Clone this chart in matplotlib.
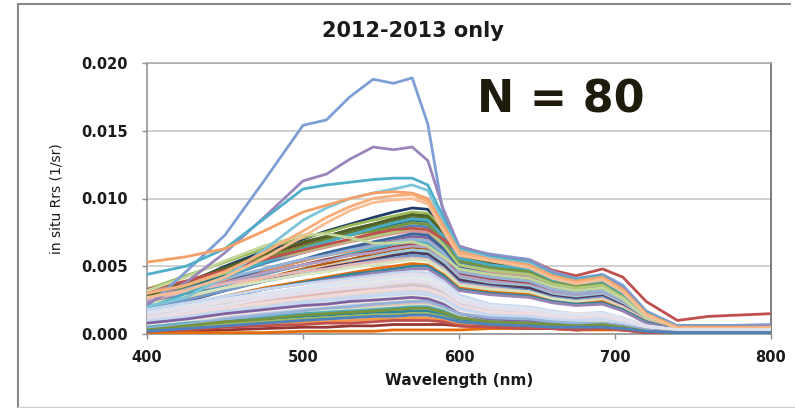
import matplotlib
matplotlib.use("Agg")
import matplotlib.pyplot as plt
from matplotlib.lines import Line2D
from matplotlib.ticker import FixedLocator, StrMethodFormatter

# Sampling wavelengths (nm)
wavelength_nm = [400, 425, 450, 475, 500, 515, 530, 545, 558, 570, 580, 590,
                 600, 620, 645, 660, 675, 692, 705, 720, 740, 760, 800]

# Remote-sensing reflectance, in units of 1e-4 sr^-1
RRS_UNIT = 1e-4

bright_spectra = [
    [20, 46, 73, 113, 154, 158, 175, 188, 185, 189, 155, 88, 64, 59, 55, 46, 41, 44, 36, 17, 6, 6, 7],
    [22, 38, 60, 86, 113, 118, 129, 138, 136, 138, 128, 92, 65, 58, 54, 45, 40, 43, 34, 16, 5, 5, 6],
    [44, 50, 63, 85, 107, 110, 112, 114, 115, 115, 110, 86, 63, 57, 53, 44, 40, 43, 33, 16, 5, 5, 5],
    [20, 27, 42, 62, 84, 93, 100, 104, 107, 110, 106, 82, 62, 56, 52, 43, 39, 42, 32, 15, 5, 4, 5],
    [53, 57, 63, 76, 90, 95, 100, 104, 105, 104, 100, 80, 61, 55, 51, 43, 39, 42, 33, 15, 5, 5, 5],
    [30, 36, 46, 60, 76, 86, 94, 100, 102, 103, 98, 78, 60, 55, 50, 42, 38, 41, 32, 14, 4, 4, 5],
    [27, 32, 42, 56, 72, 82, 91, 97, 99, 100, 96, 76, 58, 54, 49, 41, 37, 40, 31, 14, 4, 4, 4],
]

mid_spectra = [
    [26, 37, 50, 61, 70, 76, 81, 86, 90, 93, 92, 79, 61, 56, 52, 44, 40, 43, 33, 16, 6, 6, 6],
    [25, 36, 47, 58, 67, 72, 77, 81, 85, 88, 87, 75, 58, 53, 49, 41, 38, 40, 31, 15, 5, 5, 5],
    [33, 43, 53, 63, 71, 75, 80, 84, 87, 90, 89, 77, 59, 54, 50, 42, 39, 41, 32, 15, 5, 5, 5],
    [24, 35, 46, 56, 65, 70, 75, 79, 83, 86, 85, 73, 57, 52, 48, 40, 37, 40, 30, 15, 5, 5, 5],
    [22, 33, 44, 54, 63, 68, 73, 77, 81, 84, 83, 71, 55, 50, 47, 39, 36, 39, 29, 14, 5, 5, 5],
    [21, 31, 42, 52, 60, 65, 69, 74, 77, 80, 79, 68, 53, 48, 45, 38, 34, 37, 28, 14, 5, 5, 5],
    [30, 39, 48, 57, 64, 69, 73, 76, 79, 82, 81, 70, 54, 49, 46, 39, 35, 38, 29, 14, 5, 5, 5],
    [30, 38, 46, 54, 60, 64, 68, 71, 74, 76, 75, 65, 50, 46, 43, 36, 33, 35, 27, 13, 5, 5, 5],
    [20, 29, 38, 47, 54, 59, 63, 66, 69, 72, 71, 61, 48, 43, 40, 34, 31, 33, 25, 12, 4, 4, 4],
    [22, 30, 39, 47, 54, 58, 61, 65, 68, 70, 69, 60, 46, 42, 39, 33, 30, 32, 25, 12, 4, 4, 4],
    [19, 28, 38, 48, 55, 60, 64, 68, 71, 74, 73, 63, 49, 44, 41, 35, 32, 34, 26, 13, 4, 4, 4],
    [27, 36, 45, 54, 61, 65, 69, 72, 75, 78, 77, 66, 51, 47, 44, 37, 34, 36, 27, 13, 5, 5, 5],
    [18, 27, 36, 44, 51, 55, 59, 63, 66, 68, 67, 58, 45, 41, 38, 32, 29, 31, 24, 12, 4, 4, 4],
    [23, 30, 38, 45, 51, 55, 58, 61, 64, 66, 65, 56, 44, 40, 37, 31, 28, 30, 23, 11, 4, 4, 4],
    [16, 24, 33, 41, 48, 52, 55, 59, 62, 64, 63, 54, 42, 38, 36, 30, 28, 29, 22, 11, 4, 4, 4],
    [25, 33, 41, 48, 55, 58, 62, 65, 68, 70, 69, 60, 46, 42, 39, 33, 30, 32, 25, 12, 4, 4, 4],
    [24, 31, 38, 45, 51, 54, 58, 60, 63, 65, 64, 55, 43, 39, 36, 31, 28, 30, 23, 11, 4, 4, 4],
    [17, 25, 33, 40, 47, 50, 54, 57, 60, 62, 61, 53, 41, 37, 35, 29, 27, 29, 22, 11, 4, 4, 4],
    [20, 27, 34, 41, 46, 50, 53, 56, 58, 60, 59, 51, 40, 36, 34, 28, 26, 28, 21, 10, 4, 4, 4],
    [17, 24, 32, 39, 45, 49, 52, 55, 58, 60, 59, 51, 40, 36, 34, 28, 26, 28, 21, 10, 4, 4, 4],
    [18, 25, 32, 39, 44, 48, 51, 54, 56, 58, 57, 49, 38, 35, 32, 27, 25, 27, 20, 10, 3, 3, 3],
    [26, 31, 37, 42, 46, 48, 51, 53, 55, 56, 55, 48, 37, 34, 31, 26, 24, 26, 20, 10, 3, 3, 3],
    [22, 28, 34, 39, 44, 46, 49, 51, 53, 55, 54, 47, 36, 33, 31, 26, 24, 25, 19, 9, 3, 3, 3],
    [15, 21, 28, 34, 39, 42, 45, 48, 50, 52, 51, 44, 34, 31, 29, 24, 22, 24, 18, 9, 3, 3, 3],
    [14, 20, 27, 33, 38, 41, 44, 46, 48, 50, 50, 43, 33, 30, 28, 24, 22, 23, 18, 9, 3, 3, 3],
    [16, 21, 27, 33, 37, 40, 42, 45, 46, 48, 48, 41, 32, 29, 27, 23, 21, 22, 17, 8, 3, 3, 3],
    [28, 38, 49, 59, 68, 72, 77, 81, 85, 88, 87, 75, 58, 53, 49, 41, 38, 40, 31, 15, 5, 5, 5],
    [19, 30, 42, 53, 63, 68, 73, 78, 82, 85, 84, 72, 56, 51, 48, 40, 37, 39, 30, 14, 5, 5, 5],
    [33, 39, 47, 55, 62, 66, 70, 74, 77, 78, 77, 70, 60, 57, 55, 47, 43, 48, 42, 24, 10, 13, 15],
    [32, 42, 54, 65, 73, 74, 71, 67, 67, 68, 65, 57, 48, 44, 41, 35, 32, 34, 26, 12, 5, 5, 5],
]

pale_spectra = [
    [18, 23, 28, 33, 37, 39, 41, 43, 45, 46, 45, 39, 29, 22, 20, 17, 15, 16, 12, 6, 3, 3, 3],
    [15, 20, 25, 30, 34, 37, 39, 41, 43, 44, 43, 37, 27, 21, 19, 16, 15, 15, 12, 6, 3, 3, 3],
    [13, 18, 23, 28, 32, 35, 37, 39, 41, 42, 41, 36, 26, 20, 18, 16, 14, 15, 11, 5, 3, 3, 3],
    [12, 17, 22, 27, 31, 33, 36, 38, 40, 41, 40, 35, 25, 20, 18, 15, 14, 14, 11, 5, 2, 2, 2],
    [14, 18, 23, 28, 31, 33, 35, 37, 39, 40, 39, 34, 25, 19, 18, 15, 13, 14, 11, 5, 2, 2, 2],
    [10, 15, 20, 25, 29, 31, 34, 36, 38, 39, 38, 33, 24, 19, 17, 14, 13, 14, 11, 5, 2, 2, 2],
    [11, 16, 21, 25, 29, 31, 33, 35, 37, 38, 37, 32, 24, 18, 17, 14, 13, 13, 10, 5, 2, 2, 2],
    [9, 14, 19, 24, 28, 30, 32, 34, 36, 37, 36, 31, 23, 18, 16, 14, 12, 13, 10, 5, 2, 2, 2],
    [12, 16, 20, 25, 28, 30, 32, 33, 35, 36, 35, 31, 22, 17, 16, 13, 12, 13, 10, 5, 2, 2, 2],
    [9, 13, 18, 23, 26, 28, 30, 32, 34, 35, 34, 30, 22, 17, 15, 13, 12, 12, 9, 5, 2, 2, 2],
    [7, 12, 17, 22, 25, 28, 30, 32, 34, 35, 34, 30, 22, 17, 15, 13, 12, 12, 9, 5, 2, 2, 2],
    [10, 14, 18, 22, 26, 28, 30, 31, 33, 34, 33, 29, 21, 16, 15, 13, 11, 12, 9, 4, 2, 2, 2],
    [8, 12, 17, 21, 25, 27, 29, 30, 32, 33, 32, 28, 20, 16, 15, 12, 11, 12, 9, 4, 2, 2, 2],
    [7, 11, 16, 20, 24, 26, 28, 29, 31, 32, 31, 27, 20, 15, 14, 12, 11, 11, 9, 4, 2, 2, 2],
    [9, 13, 17, 20, 24, 25, 27, 29, 30, 31, 30, 26, 19, 15, 14, 11, 10, 11, 8, 4, 2, 2, 2],
    [6, 10, 14, 18, 22, 24, 26, 27, 29, 30, 29, 26, 19, 14, 13, 11, 10, 11, 8, 4, 2, 2, 2],
    [8, 12, 15, 19, 22, 24, 25, 27, 28, 29, 28, 25, 18, 14, 13, 11, 10, 10, 8, 4, 2, 2, 2],
    [6, 10, 14, 17, 21, 22, 24, 26, 27, 28, 27, 24, 17, 13, 12, 10, 9, 10, 8, 4, 2, 2, 2],
    [7, 10, 14, 17, 20, 22, 23, 25, 26, 27, 26, 23, 17, 13, 12, 10, 9, 9, 7, 4, 2, 2, 2],
    [5, 9, 12, 16, 19, 21, 22, 24, 25, 26, 25, 22, 16, 12, 11, 10, 9, 9, 7, 3, 2, 2, 2],
    [6, 9, 13, 16, 19, 20, 22, 23, 24, 25, 25, 21, 16, 12, 11, 9, 8, 9, 7, 3, 2, 2, 2],
    [5, 8, 12, 15, 18, 19, 21, 22, 23, 24, 24, 20, 15, 12, 11, 9, 8, 8, 6, 3, 1, 1, 1],
    [4, 7, 10, 13, 16, 17, 19, 20, 21, 22, 22, 19, 14, 11, 10, 8, 7, 8, 6, 3, 1, 1, 1],
    [5, 8, 11, 13, 16, 17, 18, 19, 20, 21, 21, 18, 13, 10, 9, 8, 7, 7, 6, 3, 1, 1, 1],
    [3, 6, 9, 12, 14, 16, 17, 18, 19, 20, 20, 17, 12, 10, 9, 7, 7, 7, 5, 3, 1, 1, 1],
    [4, 6, 9, 11, 13, 14, 15, 16, 17, 18, 18, 15, 11, 9, 8, 7, 6, 6, 5, 2, 1, 1, 1],
    [3, 5, 8, 10, 12, 13, 14, 15, 15, 16, 16, 14, 10, 8, 7, 6, 5, 6, 4, 2, 1, 1, 1],
    [13, 17, 22, 26, 30, 32, 34, 35, 37, 38, 37, 32, 24, 18, 17, 14, 13, 13, 10, 5, 2, 2, 2],
    [16, 21, 26, 30, 34, 36, 38, 40, 42, 43, 42, 37, 27, 21, 19, 16, 14, 15, 12, 6, 3, 3, 3],
    [11, 15, 19, 23, 26, 28, 30, 32, 33, 34, 33, 29, 21, 16, 15, 13, 11, 12, 9, 4, 2, 2, 2],
    [10, 13, 17, 20, 23, 25, 26, 28, 29, 30, 29, 26, 19, 14, 13, 11, 10, 11, 8, 4, 2, 2, 2],
    [12, 17, 21, 26, 30, 32, 34, 36, 38, 39, 38, 33, 24, 19, 17, 14, 13, 14, 11, 5, 2, 2, 2],
]

low_spectra = [
    [8, 11, 15, 18, 21, 22, 24, 25, 26, 27, 26, 22, 15, 11, 10, 8, 7, 8, 6, 3, 1, 1, 1],
    [5, 8, 10, 13, 15, 16, 17, 18, 19, 20, 20, 17, 12, 9, 8, 7, 6, 7, 5, 2, 1, 1, 1],
    [4, 6, 9, 11, 13, 14, 15, 16, 16, 17, 17, 14, 10, 8, 7, 6, 5, 6, 4, 2, 1, 1, 1],
    [3, 5, 7, 9, 11, 12, 13, 14, 14, 15, 15, 13, 9, 7, 6, 5, 5, 5, 4, 2, 1, 1, 1],
    [2, 4, 6, 7, 9, 9, 10, 11, 11, 12, 12, 10, 7, 6, 5, 4, 4, 4, 3, 2, 1, 1, 1],
    [1, 2, 3, 4, 5, 5, 6, 6, 7, 7, 7, 7, 6, 5, 4, 4, 3, 4, 3, 1, 1, 1, 1],
    [1, 1, 1, 1, 2, 2, 2, 2, 3, 3, 3, 3, 3, 4, 4, 4, 3, 3, 3, 2, 1, 1, 1],
    [4, 7, 11, 14, 17, 19, 20, 22, 23, 24, 24, 20, 15, 12, 11, 9, 8, 8, 6, 3, 1, 1, 1],
    [2, 3, 5, 6, 7, 8, 8, 9, 10, 10, 10, 9, 6, 5, 4, 4, 3, 4, 3, 1, 1, 1, 1],
    [3, 6, 9, 11, 14, 15, 16, 17, 18, 19, 19, 16, 12, 9, 8, 7, 6, 7, 5, 2, 1, 1, 1],
    [2, 4, 6, 8, 10, 11, 12, 13, 13, 14, 14, 12, 9, 7, 6, 5, 5, 5, 4, 2, 1, 1, 1],
]

# Line colours (Office-style palette and its tints)
bright_colors = ['#7E9FD5', '#9A86BD', '#4FAEC8', '#7CC4D8', '#F4A068', '#F8AE7A', '#F9BE94']
mid_colors = ['#1F3B6A', '#772C2A', '#9BBB59', '#5F7530', '#276A7C', '#4F81BD',
              '#77933C', '#D99694', '#8064A2', '#F79646', '#3A679C', '#AFC97A',
              '#4BACC6', '#9F3B38', '#B65708', '#95B3D7', '#B2A1C7', '#93CDDD',
              '#FAC090', '#4D3B62', '#729ACA', '#E6B9B8', '#D7E4BD', '#E46C0A',
              '#31859C', '#9983B5', '#4F6228', '#4BACC6', '#C0504D', '#C3D69B']
pale_colors = ['#C6D9F1', '#F2DCDB', '#DCE6F2', '#EBF1DE', '#E5E0EC', '#DBEEF4',
               '#FDE9D9', '#B9CDE5', '#E6B9B8', '#D7E4BD', '#CCC1DA', '#B7DEE8',
               '#FCD5B5', '#D9D9D9', '#C6D9F1', '#F2DCDB', '#DCE6F2', '#EBF1DE',
               '#E5E0EC', '#DBEEF4', '#FDE9D9', '#B9CDE5', '#E6B9B8', '#D7E4BD',
               '#CCC1DA', '#B7DEE8', '#FCD5B5', '#D9D9D9', '#DCE6F2', '#F2DCDB',
               '#C6D9F1', '#E5E0EC']
low_colors = ['#7F63A1', '#4BACC6', '#31859C', '#9BBB59', '#F79646', '#943634',
              '#E46C0A', '#95B3D7', '#C0504D', '#77933C', '#4F81BD']

x_ticks = [400, 500, 600, 700, 800]
y_ticks = [0.000, 0.005, 0.010, 0.015, 0.020]

W, H = 795, 408
fig = plt.figure(figsize=(W / 100, H / 100), dpi=100)
fig.patch.set_facecolor('white')

ax = fig.add_axes([147 / W, 1 - 334 / H, (771 - 147) / W, (334 - 63) / H])

groups = [(mid_spectra, mid_colors), (bright_spectra, bright_colors),
          (pale_spectra, pale_colors), (low_spectra, low_colors)]
for spectra, colors in groups:
    for values, color in zip(spectra, colors):
        ax.plot(wavelength_nm, [v * RRS_UNIT for v in values], color=color,
                lw=2.0, solid_joinstyle='round', solid_capstyle='round', zorder=3)

ax.set_xlim(400, 800)
ax.set_ylim(0, 0.020)
ax.xaxis.set_major_locator(FixedLocator(x_ticks))
ax.yaxis.set_major_locator(FixedLocator(y_ticks))
ax.yaxis.set_major_formatter(StrMethodFormatter('{x:.3f}'))
ax.yaxis.grid(True, color='#C9C9C9', lw=1.2)
ax.set_axisbelow(True)

for side, col in [('left', '#8C8C8C'), ('bottom', '#8C8C8C'),
                  ('top', '#A6A6A6'), ('right', '#5A5A5A')]:
    ax.spines[side].set_color(col)
    ax.spines[side].set_linewidth(1.1)

ax.tick_params(axis='both', direction='out', length=3.5, width=1.0, color='#8C8C8C',
               labelsize=10.5, labelcolor='#1A1A1A')
ax.tick_params(axis='y', pad=10)
ax.tick_params(axis='x', pad=8)
for lbl in ax.get_xticklabels() + ax.get_yticklabels():
    lbl.set_fontweight('bold')

fig.text(413 / W, 1 - 31 / H, '2012-2013 only', ha='center', va='center',
         fontsize=15, fontweight='bold', color='#1A1A1A')
fig.text(561 / W, 1 - 100 / H, 'N = 80', ha='center', va='center',
         fontsize=32, fontweight='bold', color='#1E1A0C')
fig.text(459 / W, 1 - 381 / H, 'Wavelength (nm)', ha='center', va='center',
         fontsize=11, fontweight='bold', color='#1A1A1A')
fig.text(57 / W, 1 - 199 / H, 'in situ Rrs (1/sr)', ha='center', va='center',
         rotation=90, fontsize=10, color='#1A1A1A')

# Outer chart frame
frame_kw = dict(transform=fig.transFigure, color='#8A8A8A', lw=1.5)
fig.add_artist(Line2D([17.5 / W, 17.5 / W], [0, 1 - 3.5 / H], **frame_kw))
fig.add_artist(Line2D([17.5 / W, 790 / W], [1 - 3.5 / H, 1 - 3.5 / H], **frame_kw))
fig.add_artist(Line2D([17.5 / W, 1], [1 - 406.5 / H, 1 - 406.5 / H],
                      transform=fig.transFigure, color='#D0D0D0', lw=1.0))

fig.savefig('out.png', dpi=100, facecolor='white')
